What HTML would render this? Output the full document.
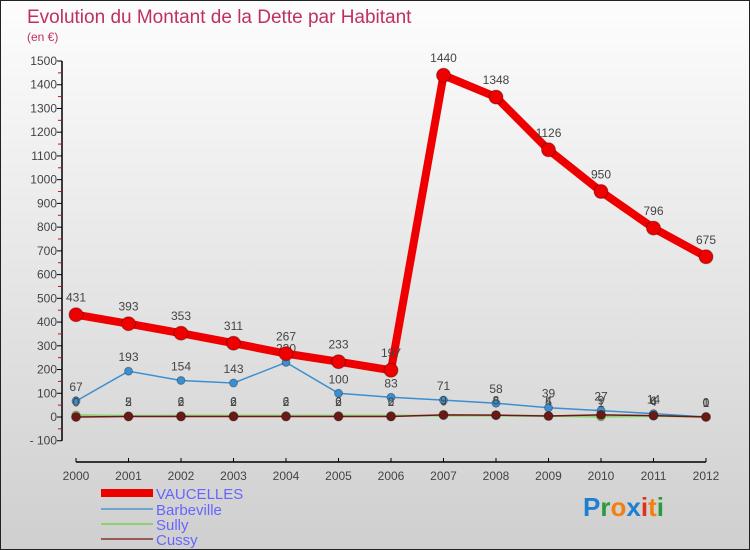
<!DOCTYPE html>
<html><head><meta charset="utf-8"><style>
body{margin:0}
#c{width:750px;height:550px;position:relative;background:linear-gradient(#fdfdfd,#cfcfcf);font-family:"Liberation Sans",sans-serif;box-sizing:border-box;border:1px solid #222;overflow:hidden}
svg text{font-family:"Liberation Sans",sans-serif}
</style></head><body>
<div id="c">
<svg id="s" width="750" height="550">
<text x="26" y="22" font-size="19" fill="#c0305f">Evolution du Montant de la Dette par Habitant</text>
<text x="26" y="40" font-size="12" fill="#c0305f">(en €)</text>
<g id="ax"></g><g id="series"></g>
<g>
<rect x="100" y="488" width="52" height="8" fill="#e00"/>
<text x="155" y="498" font-size="15" fill="#6666ff">VAUCELLES</text>
<rect x="100" y="507" width="52" height="2" fill="#6fa6d0"/>
<text x="155" y="514" font-size="15" fill="#6666ff">Barbeville</text>
<rect x="100" y="522" width="52" height="2" fill="#8fd070"/>
<text x="155" y="529" font-size="15" fill="#6666ff">Sully</text>
<rect x="100" y="537" width="52" height="2" fill="#9a5a55"/>
<text x="155" y="544" font-size="15" fill="#6666ff">Cussy</text>
</g>
<text x="582" y="515" font-size="26" font-weight="bold"><tspan fill="#1e7fd0">P</tspan><tspan fill="#2a9a3a">r</tspan><tspan fill="#f08010">o</tspan><tspan fill="#1e7fd0">x</tspan><tspan fill="#e03020">i</tspan><tspan fill="#f08010">t</tspan><tspan fill="#2a9a3a">i</tspan></text>
</svg></div>
<script>
const years=[2000,2001,2002,2003,2004,2005,2006,2007,2008,2009,2010,2011,2012];
const vaucelles=[431,393,353,311,267,233,197,1440,1348,1126,950,796,675];
const barbeville=[67,193,154,143,230,100,83,71,58,39,27,14,0];
const sully=[8,5,6,6,6,6,6,6,6,5,1,4,1];
const cussy=[0,2,2,2,2,2,2,9,8,4,9,6,0];
const yTicks=[-100,0,100,200,300,400,500,600,700,800,900,1000,1100,1200,1300,1400,1500];
const NS="http://www.w3.org/2000/svg";
const X=i=>75+i*52.5;
const Y=v=>416-v*0.23733;
function mk(t,a,p){const e=document.createElementNS(NS,t);for(const k in a)e.setAttribute(k,a[k]);p.appendChild(e);return e;}
const ax=document.getElementById('ax');
let l=mk('line',{x1:61,y1:Y(1500),x2:61,y2:Y(-100),stroke:'#000','stroke-width':1.5},ax);


l=mk('line',{x1:X(0),y1:461,x2:X(12),y2:461,stroke:'#000','stroke-width':1.5},ax);


yTicks.forEach(v=>{
 mk('line',{x1:56,y1:Y(v),x2:61,y2:Y(v),stroke:'#000'},ax);
 if(v<1500){const m=mk('line',{x1:57,y1:Y(v+50),x2:60,y2:Y(v+50),stroke:'#e00'},ax);}
 const t=mk('text',{x:56,y:Y(v)+4,'font-size':12,fill:'#444','text-anchor':'end'},ax);
 t.textContent=v<0?'- '+(-v):v;
 
 
});
years.forEach((y,i)=>{
 mk('line',{x1:X(i),y1:457,x2:X(i),y2:461,stroke:'#000'},ax);
 const t=mk('text',{x:X(i),y:466+13,'font-size':12,fill:'#444','text-anchor':'middle'},ax);
 t.textContent=y;
 
 
});
const sg=document.getElementById('series');
function draw(vals,name,col,w,r,labels){
 const g=mk('g',{},sg);
 
 
 const p=mk('polyline',{points:vals.map((v,i)=>X(i)+','+Y(v)).join(' '),fill:'none',stroke:col,'stroke-width':w,'stroke-linejoin':'round'},g);
 
 
 vals.forEach((v,i)=>{
  const c=mk('circle',{cx:X(i),cy:Y(v),r:r,fill:col,stroke:'rgba(0,0,0,0.3)'},g);
  
  
  if(labels){const t=mk('text',{x:X(i),y:Y(v)-r-6,'font-size':12,fill:'#444','text-anchor':'middle'},g);
   t.textContent=v;
   
   }
 });
}
draw(sully,'sully','#8fd070',2,4,true);
draw(barbeville,'barbeville','#3b8fd0',1.5,4,true);
draw(cussy,'cussy','#6a1a14',1.5,4.5,true);
draw(vaucelles,'vaucelles','#ee0000',8,7,true);
</script>
</body></html>
